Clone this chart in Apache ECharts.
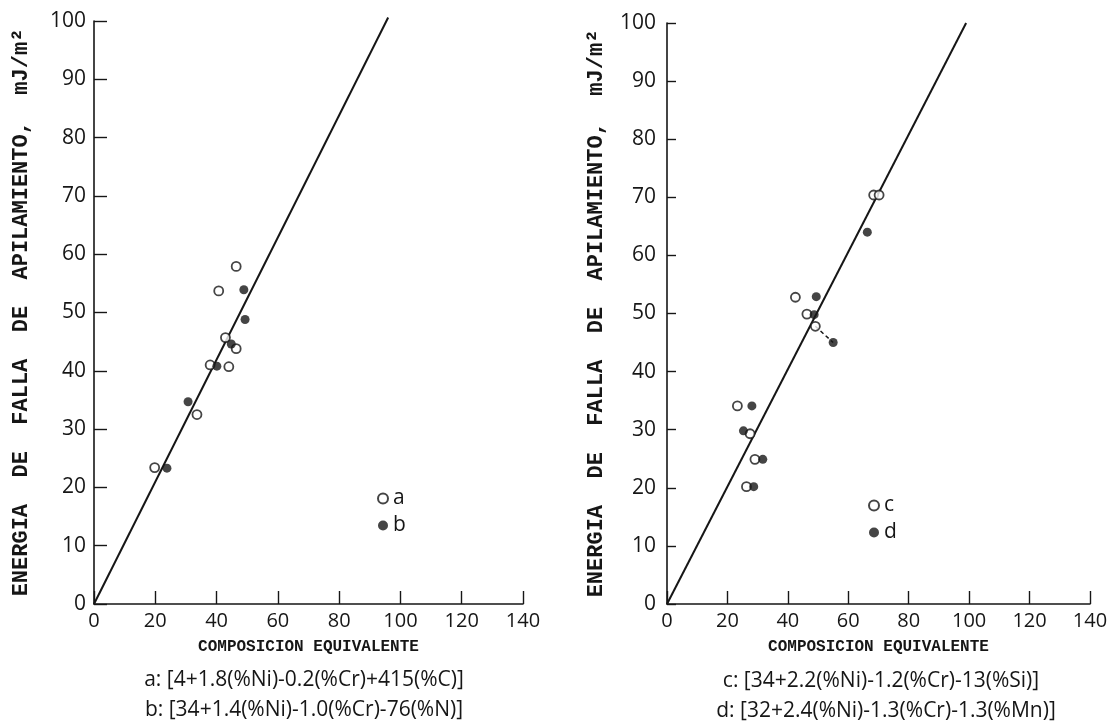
<!DOCTYPE html>
<html>
<head>
<meta charset="utf-8">
<title>Energia de falla de apilamiento</title>
<script src="https://cdn.jsdelivr.net/npm/echarts@6/dist/echarts.min.js"></script>
<style>
  html, body { margin: 0; padding: 0; background: #fff; }
  #chart { width: 1117px; height: 725px; }
</style>
</head>
<body>
<div id="chart"></div>
<script>
// ejes
const xTicks = [0, 20, 40, 60, 80, 100, 120, 140]
const yTicks = [0, 10, 20, 30, 40, 50, 60, 70, 80, 90, 100]

// panel izquierdo: [composicion equivalente, energia]
const seriesA = [
  [46.4, 57.9], [40.7, 53.7], [42.9, 45.7], [46.4, 43.8],
  [37.9, 41.0], [44.0, 40.7], [33.6, 32.5], [19.8, 23.4]
]
const seriesB = [
  [48.9, 53.9], [49.3, 48.8], [44.8, 44.6], [40.1, 40.8],
  [30.7, 34.7], [23.8, 23.3]
]
const lineLeft = [[0, 0], [96, 100.6]]

// panel derecho
const seriesC = [
  [68.4, 70.4], [70.2, 70.4], [42.5, 52.8], [46.3, 49.9], [49.1, 47.8],
  [23.3, 34.1], [27.5, 29.3], [29.1, 24.9], [26.3, 20.2]
]
const seriesD = [
  [66.3, 64.0], [49.4, 52.9], [48.7, 49.8], [55.0, 45.0],
  [28.1, 34.1], [25.3, 29.8], [31.7, 24.9], [28.7, 20.2]
]
const lineRight = [[0, 0], [99, 100]]
const tieRight = [[49.1, 47.8], [55.0, 45.0]]

const yTitle = 'ENERGIA  DE  FALLA  DE  APILAMIENTO,  mJ/m²'
const xTitle = 'COMPOSICION EQUIVALENTE'
const formulasLeft = [
  'a: [4+1.8(%Ni)-0.2(%Cr)+415(%C)]',
  'b: [34+1.4(%Ni)-1.0(%Cr)-76(%N)]'
]
const formulasRight = [
  'c: [34+2.2(%Ni)-1.2(%Cr)-13(%Si)]',
  'd: [32+2.4(%Ni)-1.3(%Cr)-1.3(%Mn)]'
]

const ink = '#161616'
const tickFont = { color: ink, fontSize: 21, fontFamily: 'Open Sans' }
// titulos de maquina de escribir
const yTitleFont = { color: ink, fontSize: 22, fontWeight: 'bold', fontFamily: 'Liberation Mono' }
const xTitleFont = { color: ink, fontSize: 16, fontWeight: 'bold', fontFamily: 'Liberation Mono' }

function xAxisFor(gridIndex) {
  return {
    gridIndex,
    type: 'value',
    min: xTicks[0],
    max: xTicks[xTicks.length - 1],
    interval: 20,
    name: xTitle,
    nameLocation: 'middle',
    nameGap: 35,
    nameTextStyle: xTitleFont,
    axisLine: { lineStyle: { color: ink, width: 1.6 } },
    axisTick: { inside: true, length: 13, lineStyle: { color: ink, width: 1.4 } },
    axisLabel: Object.assign({ margin: 7 }, tickFont, { fontSize: 20 }),
    splitLine: { show: false }
  }
}

function yAxisFor(gridIndex, gap) {
  return {
    gridIndex,
    type: 'value',
    min: yTicks[0],
    max: yTicks[yTicks.length - 1],
    interval: 10,
    name: yTitle,
    nameLocation: 'middle',
    nameGap: gap,
    nameTextStyle: yTitleFont,
    axisLine: { show: true, lineStyle: { color: ink, width: 1.6 } },
    axisTick: { show: true, inside: true, length: gridIndex === 0 ? 13 : 9, lineStyle: { color: ink, width: 1.4 } },
    axisLabel: Object.assign({ margin: gridIndex === 0 ? 8 : 11 }, tickFont),
    splitLine: { show: false }
  }
}

function openDots(name, data, idx) {
  return {
    name,
    type: 'scatter',
    xAxisIndex: idx,
    yAxisIndex: idx,
    data,
    symbol: 'circle',
    symbolSize: 9,
    itemStyle: { color: '#fff', borderColor: ink, borderWidth: 1.8 },
    z: 3
  }
}

function filledDots(name, data, idx) {
  return {
    name,
    type: 'scatter',
    xAxisIndex: idx,
    yAxisIndex: idx,
    data,
    symbol: 'circle',
    symbolSize: 9,
    itemStyle: { color: ink },
    z: 4
  }
}

function fitLine(data, idx) {
  return {
    type: 'line',
    xAxisIndex: idx,
    yAxisIndex: idx,
    data,
    showSymbol: false,
    clip: false,
    silent: true,
    lineStyle: { color: ink, width: 2 },
    z: 2
  }
}

function formulaText(lines, cx, top) {
  return lines.map((t, i) => ({
    type: 'text',
    x: cx[i],
    y: top + i * 30,
    style: {
      text: t,
      fill: ink,
      font: '21px "Open Sans"',
      textAlign: 'center',
      textVerticalAlign: 'middle'
    }
  }))
}

const chart = echarts.init(document.getElementById('chart'))
chart.setOption({
  backgroundColor: '#fff',
  animation: false,
  grid: [
    { left: 94, top: 21, width: 429, height: 583 },
    { left: 667, top: 23, width: 423, height: 581 }
  ],
  xAxis: [xAxisFor(0), xAxisFor(1)],
  yAxis: [yAxisFor(0, 62), yAxisFor(1, 60)],
  legend: [
    {
      data: ['a', 'b'],
      orient: 'vertical',
      left: 372,
      top: 483,
      itemWidth: 10,
      itemHeight: 10,
      itemGap: 6,
      icon: 'circle',
      textStyle: tickFont
    },
    {
      data: ['c', 'd'],
      orient: 'vertical',
      left: 863,
      top: 490,
      itemWidth: 10,
      itemHeight: 10,
      itemGap: 6,
      icon: 'circle',
      textStyle: tickFont
    }
  ],
  graphic: formulaText(formulasLeft, [304, 304], 680)
    .concat(formulaText(formulasRight, [881, 886], 681)),
  series: [
    fitLine(lineLeft, 0),
    openDots('a', seriesA, 0),
    filledDots('b', seriesB, 0),
    fitLine(lineRight, 1),
    {
      type: 'line',
      xAxisIndex: 1,
      yAxisIndex: 1,
      data: tieRight,
      showSymbol: false,
      silent: true,
      lineStyle: { color: ink, width: 1.5, type: [4, 3] },
      z: 2
    },
    openDots('c', seriesC, 1),
    filledDots('d', seriesD, 1)
  ]
})
</script>
</body>
</html>
